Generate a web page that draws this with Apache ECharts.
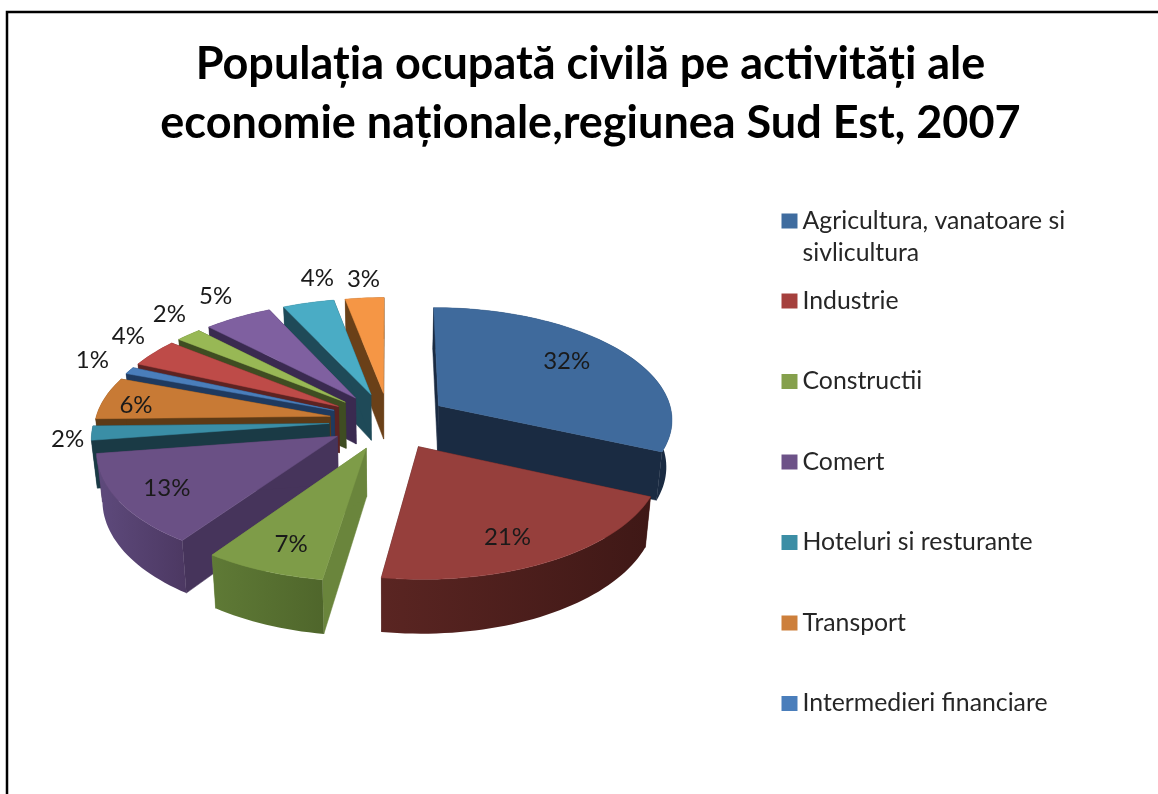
<!DOCTYPE html>
<html>
<head>
<meta charset="utf-8">
<title>Populatia ocupata civila</title>
<script src="https://cdn.jsdelivr.net/npm/echarts@6/dist/echarts.min.js"></script>
<style>
html, body { margin: 0; padding: 0; background: #fff; }
#chart { width: 1158px; height: 794px; }
</style>
</head>
<body>
<div id="chart"></div>
<script>
var titleLines = ['Populația ocupată civilă pe activități ale', 'economie naționale,regiunea Sud Est, 2007'];
var legendNames = [
	'Agricultura, vanatoare si\nsivlicultura',
	'Industrie',
	'Constructii',
	'Comert',
	'Hoteluri si resturante',
	'Transport',
	'Intermedieri financiare'
];
// the last five slices have no legend entry in the picture
var sliceValues = [31.6, 20.7, 7.25, 12.95, 2, 6, 1, 4, 2, 5.3, 4, 3];

// colours per slice
var topColors = ['#3f6a9c', '#963f3c', '#7e9c48', '#6a5085', '#3a8ea6', '#c87a35', '#4a7ebb', '#be4b48', '#98b855', '#7f60a0', '#4aacc5', '#f59645'];
var radialColors = ['#1a2b42', '#4a1c19', '#6a853c', '#46345b', '#1a3a45', '#5d3a16', '#1f3a5f', '#5c2322', '#3f4d22', '#3a2a50', '#1f4a58', '#6a4018'];
var outerLeft = ['#1a2b42', '#5a2522', '#5f7a36', '#5e4a7c', '#1a3a45', '#5d3a16', '#1f3a5f', '#5c2322', '#3f4d22', '#3a2a50', '#1f4a58', '#6a4018'];
var outerRight = ['#1a2b42', '#3f1816', '#4f662b', '#4c3862', '#1a3a45', '#5d3a16', '#1f3a5f', '#5c2322', '#3f4d22', '#3a2a50', '#1f4a58', '#6a4018'];
var legendColors = ['#3f6c9f', '#a5403d', '#85a04c', '#6d5288', '#3c8ea5', '#cd7f3b', '#4a7ebb'];
// label distance from slice centre in pie radii, then a small pixel nudge
var labelRadius = [0.67, 0.67, 0.67, 0.67, 1.2, 0.72, 1.18, 1.18, 1.18, 1.18, 1.14, 1.12];
var labelNudge = [[5, -6], [4, 16], [-9, 17], [-27, 10], [24, 4], [-31, 2], [-2, -3], [6, -8], [7, -9], [-3, -8], [17, -13], [1, -8]];

// projection of the tilted pie
var pie = { cx: 389, cy: 421, rx: 235, ry: 112, persp: 0.11, depth: 47, taper: 0.02, explode: 0.255 };

var total = sliceValues.reduce(function(a, b) { return a + b; }, 0);
var starts = [];
sliceValues.reduce(function(sum, v, i) {
	starts[i] = sum / total * Math.PI * 2;
	return sum + v;
}, 0);

function project(x, y, z) {
	var s = 1 / (1 + pie.persp * y);
	return [pie.cx + pie.rx * x * s * (1 - pie.taper * z), pie.cy - pie.ry * y * s + pie.depth * z * s];
}

function renderSlice(i, params, api) {
	var value = api.value(0);
	var a0 = starts[i];
	var a1 = a0 + value / total * Math.PI * 2;
	var mid = (a0 + a1) / 2;
	var ox = pie.explode * Math.sin(mid);
	var oy = pie.explode * Math.cos(mid);
	var steps = Math.max(3, Math.ceil((a1 - a0) / 0.03));
	var topArc = [], bottomArc = [];
	for (var k = 0; k <= steps; k++) {
		var a = a0 + (a1 - a0) * k / steps;
		topArc.push(project(ox + Math.sin(a), oy + Math.cos(a), 0));
		bottomArc.push(project(ox + Math.sin(a), oy + Math.cos(a), 1));
	}
	var tipTop = project(ox, oy, 0);
	var tipBottom = project(ox, oy, 1);
	var radial = function(k) {
		return {
			type: 'polygon',
			shape: { points: [tipTop, topArc[k], bottomArc[k], tipBottom] },
			style: { fill: radialColors[i], stroke: radialColors[i], lineWidth: 0.5 }
		};
	};
	var lr = labelRadius[i];
	var labelPos = project(ox + lr * Math.sin(mid), oy + lr * Math.cos(mid), 0);
	return {
		type: 'group',
		children: [
			radial(0),
			radial(steps),
			{
				type: 'polygon',
				shape: { points: topArc.concat(bottomArc.slice().reverse()) },
				style: {
					fill: new echarts.graphic.LinearGradient(0, 0, 1, 0, [
						{ offset: 0, color: outerLeft[i] },
						{ offset: 1, color: outerRight[i] }
					])
				}
			},
			{
				type: 'polygon',
				shape: { points: [tipTop].concat(topArc) },
				style: { fill: topColors[i], stroke: topColors[i], lineWidth: 0.5 }
			},
			{
				type: 'text',
				style: {
					x: labelPos[0] + labelNudge[i][0],
					y: labelPos[1] + labelNudge[i][1],
					text: Math.round(value / total * 100) + '%',
					fill: '#1a1a1a',
					font: '24px Lato',
					align: 'center',
					verticalAlign: 'middle'
				}
			}
		]
	};
}

// back slices first so the front ones paint over them
var drawOrder = sliceValues.map(function(v, i) { return i; }).sort(function(a, b) {
	var ma = starts[a] + sliceValues[a] / total * Math.PI;
	var mb = starts[b] + sliceValues[b] / total * Math.PI;
	return Math.cos(mb) - Math.cos(ma);
});

var series = drawOrder.map(function(i) {
	return {
		type: 'custom',
		name: legendNames[i] || 'Felie ' + (i + 1),
		coordinateSystem: 'none',
		silent: true,
		animation: false,
		itemStyle: { color: topColors[i] },
		data: [[sliceValues[i]]],
		renderItem: function(params, api) {
			return renderSlice(i, params, api);
		}
	};
});

var legendText = { fontFamily: 'Lato', fontSize: 24.8, color: '#262626', lineHeight: 32 };

var chart = echarts.init(document.getElementById('chart'));
chart.setOption({
	backgroundColor: '#fff',
	animation: false,
	title: {
		text: titleLines.join('\n'),
		left: 585.5,
		top: 30,
		textAlign: 'center',
		textStyle: { fontFamily: 'Lato', fontWeight: 'bold', fontSize: 45, lineHeight: 59, color: '#000' }
	},
	legend: [{
		// tall icon with the square at its top, so it sits beside the first text line
		left: 776.5,
		top: 200,
		orient: 'vertical',
		selectedMode: false,
		itemWidth: 16,
		itemHeight: 47,
		itemGap: 0,
		icon: 'path://M0,0H16V15H0Z M0,47h0.01v0.01h-0.01Z',
		textStyle: legendText,
		data: [{ name: legendNames[0], itemStyle: { color: legendColors[0] } }]
	}, {
		left: 776.5,
		top: 280,
		height: 500,
		orient: 'vertical',
		selectedMode: false,
		itemWidth: 16,
		itemHeight: 15,
		itemGap: 48.5,
		icon: 'rect',
		textStyle: legendText,
		data: legendNames.slice(1).map(function(name, i) {
			return { name: name, itemStyle: { color: legendColors[i + 1] } };
		})
	}],
	graphic: [{
		type: 'polyline',
		shape: { points: [[7, 794], [7, 12], [1158, 12]] },
		style: { stroke: '#000', lineWidth: 2.5, fill: null }
	}],
	series: series
});
</script>
</body>
</html>
